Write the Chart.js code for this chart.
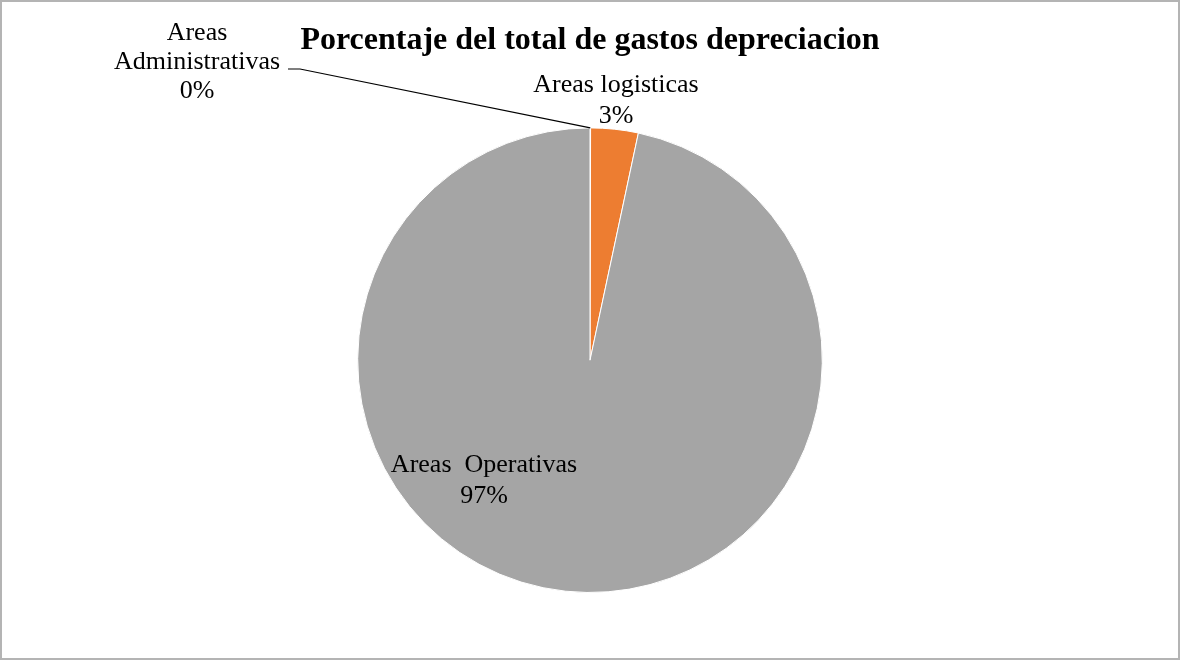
<!DOCTYPE html>
<html>
<head>
<meta charset="utf-8">
<script src="https://cdn.jsdelivr.net/npm/chart.js@4/dist/chart.umd.min.js"></script>
<style>
    body { margin: 0; background: #fff; }
    canvas { display: block; }
</style>
</head>
<body>
<canvas id="pieChart" width="1180" height="660"></canvas>
<script>
const categories = ['Areas Administrativas', 'Areas logisticas', 'Areas  Operativas'];
const values = [0.04, 3.3, 96.66];
const percentLabels = ['0%', '3%', '97%'];
const sliceColors = ['#4472C4', '#ED7D31', '#A5A5A5'];

const serif = "'Liberation Serif', 'Times New Roman', serif";

// data labels + leader line, drawn like Excel's "best fit"
const labelPlugin = {
    id: 'pieLabels',
    afterDatasetsDraw(chart) {
        const ctx = chart.ctx;
        const arcs = chart.getDatasetMeta(0).data;
        ctx.save();
        ctx.fillStyle = '#000';
        ctx.font = `26px ${serif}`;
        ctx.textAlign = 'center';
        ctx.textBaseline = 'alphabetic';

        // Areas Administrativas (outside, with leader line)
        ctx.fillText('Areas', 197, 40);
        ctx.fillText('Administrativas', 197, 69);
        ctx.fillText(percentLabels[0], 197, 98);

        const a = arcs[0];
        const mid = (a.startAngle + a.endAngle) / 2;
        const ex = a.x + Math.cos(mid) * a.outerRadius;
        const ey = a.y + Math.sin(mid) * a.outerRadius;
        ctx.strokeStyle = '#000';
        ctx.lineWidth = 1.2;
        ctx.beginPath();
        ctx.moveTo(288, 69);
        ctx.lineTo(300, 69);
        ctx.lineTo(ex, ey);
        ctx.stroke();

        // Areas logisticas
        ctx.fillText(categories[1], 616, 92);
        ctx.fillText(percentLabels[1], 616, 123);

        // Areas Operativas
        ctx.fillText(categories[2], 484, 472);
        ctx.fillText(percentLabels[2], 484, 503);

        ctx.restore();
    },
    afterDraw(chart) {
        const ctx = chart.ctx;
        ctx.save();
        ctx.strokeStyle = '#b4b4b4';
        ctx.lineWidth = 2;
        ctx.strokeRect(1, 1, chart.width - 2, chart.height - 2);
        ctx.restore();
    }
};

new Chart(document.getElementById('pieChart'), {
    type: 'pie',
    data: {
        labels: categories,
        datasets: [{
            data: values,
            backgroundColor: sliceColors,
            borderColor: '#ffffff',
            borderWidth: 1,
            hoverOffset: 0
        }]
    },
    options: {
        responsive: false,
        animation: false,
        layout: { padding: { top: 0, bottom: 67, left: 0, right: 0 } },
        plugins: {
            legend: { display: false },
            tooltip: { enabled: false },
            title: {
                display: true,
                text: 'Porcentaje del total de gastos depreciacion',
                color: '#000',
                font: { family: serif, size: 32, weight: 'bold' },
                padding: { top: 22, bottom: 67 }
            }
        }
    },
    plugins: [labelPlugin]
});
</script>
</body>
</html>
